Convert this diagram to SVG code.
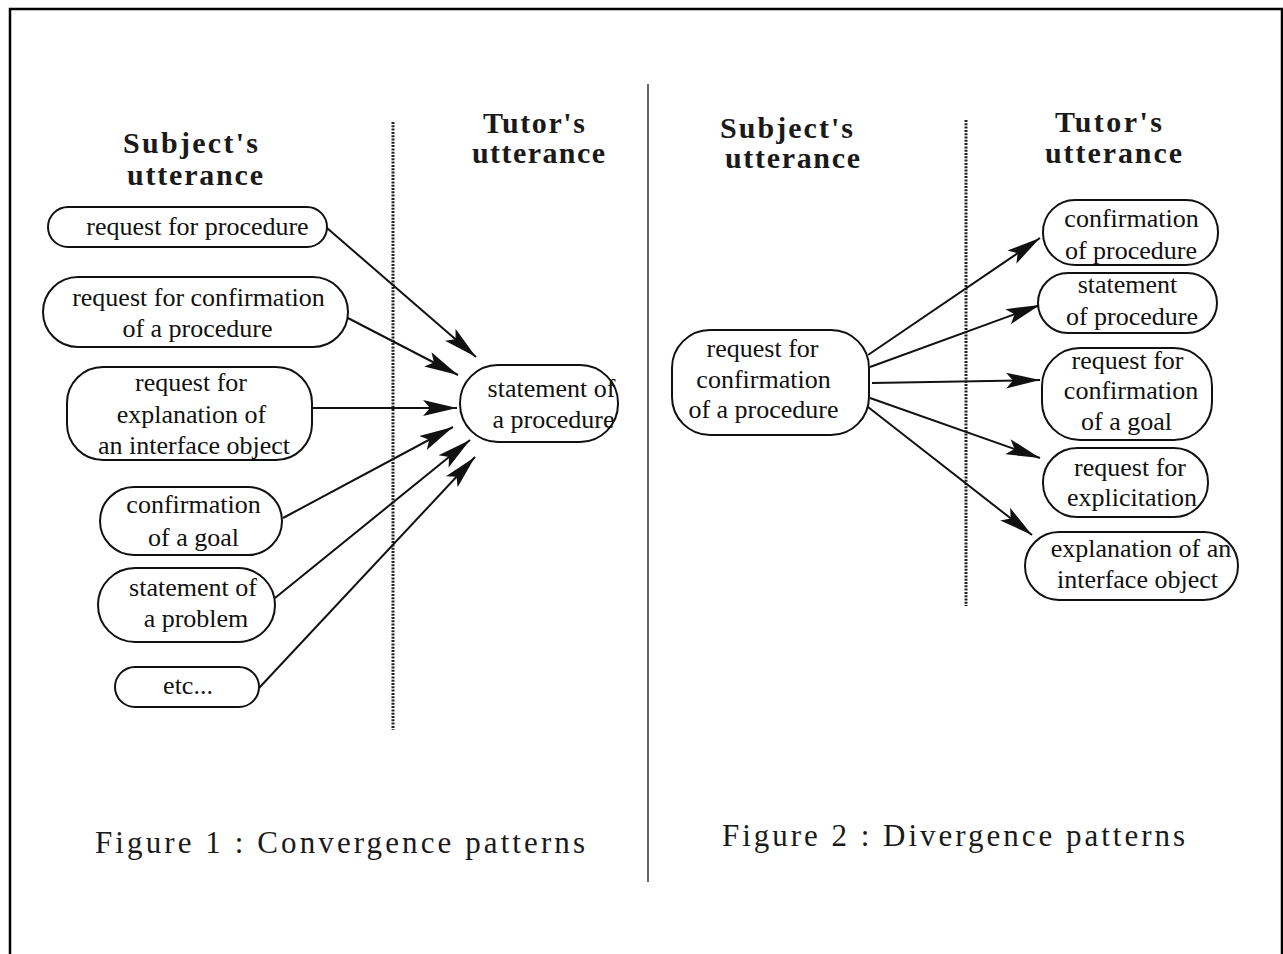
<svg xmlns="http://www.w3.org/2000/svg" width="1283" height="954" viewBox="0 0 1283 954">
<defs>
<style>
.node rect{fill:#fff;stroke:#111;stroke-width:2}
.node text{font-family:"Liberation Serif","Times New Roman",serif;font-size:26px;fill:#111;text-anchor:middle}
.hdr{font-family:"Liberation Serif","Times New Roman",serif;font-size:30px;font-weight:bold;fill:#1a1a1a;text-anchor:middle}
.cap{font-family:"Liberation Serif","Times New Roman",serif;font-size:31px;fill:#1a1a1a;text-anchor:start}
.conn line{stroke:#111;stroke-width:2;marker-end:url(#arr)}
.dot{stroke:#222;stroke-width:3;stroke-dasharray:2 1.3}
</style>
<marker id="arr" markerUnits="userSpaceOnUse" markerWidth="36" markerHeight="18" refX="34" refY="8" orient="auto" viewBox="0 0 36 16">
<path d="M0,0 L34,8 L0,16 L7,8 z" fill="#111"/>
</marker>
</defs>
<rect x="0" y="0" width="1283" height="954" fill="#fff"/>
<rect x="10" y="9" width="1272" height="960" fill="none" stroke="#000" stroke-width="2.5"/>

<g id="dividers">
<line class="dot" x1="393" y1="122" x2="393" y2="730"/>
<line class="dot" x1="966" y1="120" x2="966" y2="606"/>
<line x1="648" y1="84" x2="648" y2="882" stroke="#333" stroke-width="1.5"/>
</g>

<g id="headers">
<text class="hdr" x="190.5" y="153" textLength="135" lengthAdjust="spacing">Subject's</text>
<text class="hdr" x="195" y="185" textLength="136" lengthAdjust="spacing">utterance</text>
<text class="hdr" x="534" y="133" textLength="102" lengthAdjust="spacing">Tutor's</text>
<text class="hdr" x="538.5" y="163" textLength="133" lengthAdjust="spacing">utterance</text>
<text class="hdr" x="786.5" y="138" textLength="133" lengthAdjust="spacing">Subject's</text>
<text class="hdr" x="792.5" y="168" textLength="135" lengthAdjust="spacing">utterance</text>
<text class="hdr" x="1108.5" y="132" textLength="107" lengthAdjust="spacing">Tutor's</text>
<text class="hdr" x="1113.5" y="163" textLength="137" lengthAdjust="spacing">utterance</text>
</g>

<g id="connectors" class="conn">
<line x1="327" y1="228" x2="476" y2="357"/>
<line x1="344" y1="316" x2="458" y2="375"/>
<line x1="312" y1="408" x2="457" y2="408"/>
<line x1="283" y1="518" x2="453" y2="427"/>
<line x1="275" y1="598" x2="470" y2="440"/>
<line x1="259" y1="688" x2="475" y2="457"/>
<line x1="868" y1="355" x2="1040" y2="238"/>
<line x1="870" y1="367" x2="1040" y2="305"/>
<line x1="872" y1="383" x2="1040" y2="380"/>
<line x1="870" y1="398" x2="1040" y2="458"/>
<line x1="868" y1="407" x2="1032" y2="535"/>
</g>

<g id="n-req-proc" class="node">
<rect x="48" y="207" width="279" height="40" rx="20"/>
<text x="197.5" y="235">request for procedure</text>
</g>
<g id="n-req-conf-proc" class="node">
<rect x="43" y="277" width="305" height="70" rx="35"/>
<text x="198.5" y="306">request for confirmation</text>
<text x="197.5" y="337">of a procedure</text>
</g>
<g id="n-req-expl" class="node">
<rect x="67" y="367" width="245" height="93" rx="36"/>
<text x="191" y="391">request for</text>
<text x="191.5" y="423">explanation of</text>
<text x="194" y="454">an interface object</text>
</g>
<g id="n-conf-goal" class="node">
<rect x="100" y="487" width="182" height="68" rx="34"/>
<text x="193.5" y="513">confirmation</text>
<text x="193.5" y="546">of a goal</text>
</g>
<g id="n-stmt-prob" class="node">
<rect x="98" y="568" width="177" height="74" rx="37"/>
<text x="193" y="596">statement of</text>
<text x="196" y="627">a problem</text>
</g>
<g id="n-etc" class="node">
<rect x="115" y="667" width="144" height="40" rx="20"/>
<text x="188" y="694">etc...</text>
</g>
<g id="n-stmt-proc" class="node">
<rect x="460" y="365" width="158" height="77" rx="38"/>
<text x="551.5" y="397">statement of</text>
<text x="553.5" y="428">a procedure</text>
</g>

<g id="n-src-right" class="node">
<rect x="672" y="330" width="197" height="105" rx="38"/>
<text x="762.5" y="357">request for</text>
<text x="763.5" y="388">confirmation</text>
<text x="763.5" y="418">of a procedure</text>
</g>
<g id="n-r1" class="node">
<rect x="1043" y="200" width="175" height="65" rx="32"/>
<text x="1131.5" y="227">confirmation</text>
<text x="1131" y="259">of procedure</text>
</g>
<g id="n-r2" class="node">
<rect x="1038" y="273" width="179" height="60" rx="30"/>
<text x="1127.5" y="293">statement</text>
<text x="1132" y="325">of procedure</text>
</g>
<g id="n-r3" class="node">
<rect x="1042" y="348" width="170" height="92" rx="38"/>
<text x="1127.5" y="369">request for</text>
<text x="1131" y="399">confirmation</text>
<text x="1126.5" y="430">of a goal</text>
</g>
<g id="n-r4" class="node">
<rect x="1043" y="448" width="165" height="69" rx="34"/>
<text x="1130" y="476">request for</text>
<text x="1132" y="506">explicitation</text>
</g>
<g id="n-r5" class="node">
<rect x="1025" y="532" width="213" height="68" rx="34"/>
<text x="1141" y="557">explanation of an</text>
<text x="1137.5" y="588">interface object</text>
</g>

<g id="captions">
<text class="cap" x="95" y="853" textLength="490" lengthAdjust="spacing">Figure 1 : Convergence patterns</text>
<text class="cap" x="722" y="846" textLength="463" lengthAdjust="spacing">Figure 2 : Divergence patterns</text>
</g>
</svg>
